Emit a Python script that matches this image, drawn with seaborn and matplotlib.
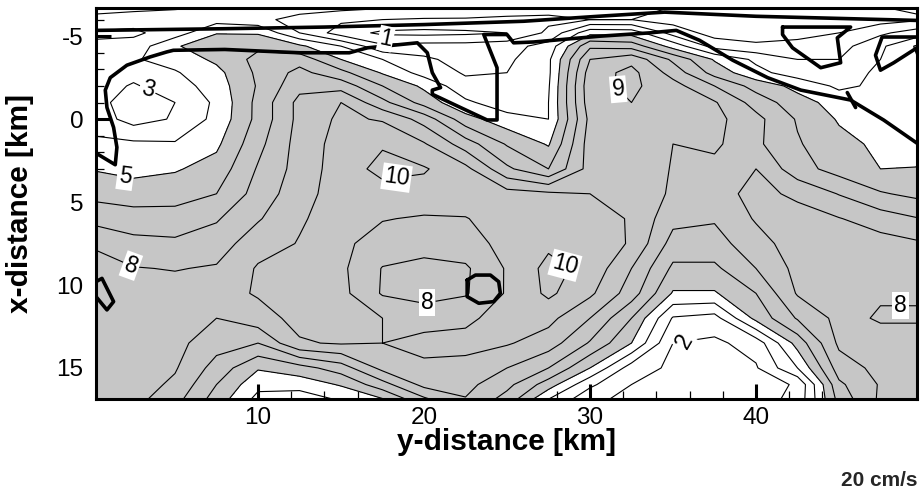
import numpy as np
import pandas as pd
import matplotlib
matplotlib.use("Agg")
import matplotlib.pyplot as plt
import seaborn as sns

# ---------------- data ----------------
# horizontal axis: y-distance [km] (grid columns)
y_dist_km = [0, 2.5, 5, 7.5, 10, 12.5, 15, 17.5, 20, 22.5, 25, 27.5, 30,
             32.5, 35, 37.5, 40, 42.5, 45, 47.5, 50]
# vertical axis: x-distance [km] (grid rows)
x_dist_km = [-6.8, -6.0, -5.2, -4.4, -3.6, -2.8, -2.0, -1.0, 0.0, 1.5, 3.0,
             4.5, 6.0, 7.5, 9.0, 10.5, 12.0, 13.5, 15.0, 16.0, 17.0]
# current speed [cm/s] on that grid (one row per x-distance)
speed_cm_s = [
    [4.6, 4.4, 4.2, 4.0, 3.8, 3.6, 3.4, 3.2, 3.0, 2.8, 2.6, 2.4, 2.3, 2.2, 2.0, 1.8, 1.7, 1.7, 1.8, 2.0, 2.2],
    [3.6, 3.4, 3.4, 3.6, 3.3, 2.6, 2.2, 2.0, 1.9, 1.9, 1.8, 1.8, 2.0, 2.0, 1.6, 1.4, 1.3, 1.3, 1.4, 1.6, 1.9],
    [2.9, 2.8, 3.5, 4.95, 4.9, 3.0, 1.5, 0.8, 0.7, 0.8, 1.0, 2.2, 4.7, 4.6, 2.6, 1.6, 1.5, 1.7, 2.0, 2.8, 3.6],
    [3.1, 3.4, 4.9, 5.6, 5.8, 5.2, 4.0, 2.2, 2.4, 2.4, 2.6, 3.4, 6.8, 6.6, 4.6, 2.6, 2.2, 2.3, 2.6, 3.8, 5.3],
    [3.6, 3.9, 4.4, 5.2, 6.3, 6.6, 5.0, 4.0, 3.2, 2.6, 2.8, 3.8, 8.0, 8.7, 6.8, 4.9, 3.8, 3.0, 3.0, 4.0, 5.1],
    [3.6, 3.3, 3.9, 4.7, 6.2, 7.3, 6.3, 4.9, 3.6, 2.9, 3.0, 3.8, 8.5, 9.3, 7.6, 5.6, 4.3, 3.5, 3.5, 4.2, 4.6],
    [3.5, 2.9, 3.5, 4.5, 6.1, 7.7, 7.6, 6.0, 4.8, 3.3, 3.2, 3.9, 8.7, 9.2, 8.4, 7.0, 5.6, 4.7, 3.8, 4.2, 4.5],
    [3.4, 2.5, 3.0, 4.2, 6.3, 8.3, 9.0, 7.3, 5.6, 4.2, 3.4, 4.0, 8.6, 9.0, 8.6, 8.1, 6.6, 5.4, 4.6, 4.3, 4.4],
    [3.6, 2.6, 3.1, 4.3, 6.3, 8.3, 9.2, 8.9, 7.6, 5.4, 4.4, 4.0, 8.3, 8.7, 8.3, 8.3, 7.3, 5.9, 4.9, 4.6, 4.5],
    [4.2, 4.2, 4.1, 4.8, 6.7, 8.4, 9.4, 9.9, 9.1, 7.5, 5.9, 4.9, 8.5, 8.9, 8.0, 8.2, 7.2, 6.1, 5.3, 4.8, 4.5],
    [4.95, 4.7, 4.9, 5.4, 7.1, 8.4, 9.5, 10.3, 10.1, 9.3, 7.2, 6.0, 8.4, 9.0, 7.9, 7.7, 8.0, 6.4, 5.6, 5.0, 5.05],
    [5.7, 5.5, 5.6, 6.0, 7.4, 8.6, 9.5, 9.6, 9.6, 9.6, 9.4, 9.2, 9.0, 8.9, 7.8, 7.6, 8.3, 7.8, 6.95, 6.1, 5.7],
    [6.7, 6.45, 6.4, 6.9, 7.9, 8.9, 9.4, 9.05, 8.9, 8.95, 9.5, 9.6, 9.5, 8.9, 7.3, 7.1, 8.1, 8.4, 8.05, 7.5, 7.0],
    [7.9, 7.3, 7.2, 7.5, 8.6, 9.05, 9.2, 8.6, 8.4, 8.6, 9.3, 9.8, 9.6, 8.9, 6.6, 6.6, 7.6, 8.5, 8.6, 8.4, 8.1],
    [8.4, 8.05, 7.95, 8.1, 9.1, 9.5, 9.2, 7.95, 7.7, 7.85, 9.1, 10.3, 9.7, 8.0, 5.8, 5.8, 7.0, 8.3, 8.6, 8.4, 8.3],
    [8.5, 8.5, 8.4, 8.6, 9.1, 9.5, 9.3, 7.9, 7.6, 7.9, 9.1, 10.2, 9.2, 7.5, 4.9, 4.9, 6.0, 8.1, 8.6, 8.1, 8.1],
    [8.6, 8.6, 8.5, 8.0, 8.6, 9.3, 9.4, 9.0, 8.6, 8.8, 9.4, 9.3, 8.0, 6.0, 2.9, 2.6, 5.3, 7.1, 8.3, 7.9, 7.9],
    [8.6, 8.6, 8.3, 7.4, 7.0, 8.9, 9.1, 9.0, 9.3, 9.3, 9.1, 8.5, 6.9, 5.0, 2.0, 1.8, 2.4, 5.4, 8.2, 8.4, 8.4],
    [8.6, 8.4, 8.1, 6.6, 5.1, 5.6, 6.5, 8.3, 8.8, 8.7, 8.0, 7.0, 5.0, 2.5, 1.8, 1.6, 1.9, 4.0, 7.5, 8.3, 8.4],
    [8.6, 8.5, 7.8, 6.0, 4.3, 4.4, 5.1, 6.6, 8.3, 8.3, 7.3, 5.5, 3.2, 2.0, 1.6, 1.5, 1.6, 2.1, 6.8, 8.1, 8.4],
    [8.6, 8.3, 7.3, 5.5, 3.6, 3.3, 4.0, 4.7, 6.6, 7.9, 6.5, 3.8, 2.2, 1.7, 1.5, 1.5, 1.6, 2.3, 6.3, 8.2, 8.4],
]
contour_levels = [1, 2, 3, 4, 5, 6, 7, 8, 9, 10]
shade_from = 5          # speeds above this are shaded grey

# spots where contour labels are written (y-km, x-km) and their tilt
label_y_km = [3.6, 2.0, 2.4, 18.3, 31.8, 20.1, 28.5, 48.7, 35.6]
label_x_km = [-2.3, 3.5, 8.7, 3.2, -1.9, 10.5, 8.8, 10.9, 12.9]
label_tilt = [-15, -8, -20, -8, 5, 0, -15, 0, 60]

# label of the thick front line
front_label = "1"
front_label_y, front_label_x = 17.7, -4.85

# thick front lines (y-km, x-km)
front_top_y = [0.24, 8.0, 14.0, 20.0, 26.0, 30.5, 34.5, 40.0, 49.7]
front_top_x = [-5.35, -5.45, -5.55, -5.7, -5.9, -6.2, -6.45, -6.2, -5.95]
front_main_y = [0.24, 1.4, 1.5, 1.3, 0.9, 0.8, 1.1, 2.1, 3.5, 4.5, 4.9, 8.0, 12.5, 15.5,
                16.6, 18.1, 19.6, 20.2, 20.5, 21.0, 20.5, 20.5, 22.2, 23.8, 24.4,
                24.4, 23.8, 23.6, 25.0, 25.4, 26.6, 30.6, 33.6, 35.2, 36.6, 38.6,
                40.7, 42.7, 45.7, 47.7, 49.7]
front_main_x = [2.05, 2.75, 1.7, 0.5, -0.7, -1.75, -2.5, -3.25, -3.75, -4.05, -4.15, -4.2,
                -4.0, -4.0, -4.3, -4.45, -4.6, -4.0, -2.8, -1.9, -1.75, -1.5, -0.7,
                0.05, 0.05, -3.1, -4.6, -5.1, -5.1, -4.6, -4.65, -5.0, -5.2, -5.35,
                -4.75, -3.55, -2.5, -1.75, -1.15, 0.06, 1.45]
front_cross_y = [45.5, 46.0]
front_cross_x = [-1.6, -0.7]
loop_a_y = [41.6, 45.7, 44.9, 45.1, 43.9, 42.2, 41.6, 41.6]
loop_a_x = [-5.55, -5.55, -4.9, -3.4, -3.1, -4.3, -5.1, -5.55]
loop_b_y = [49.7, 47.6, 47.2, 47.5, 48.3, 49.7]
loop_b_x = [-4.95, -4.95, -3.85, -2.95, -3.4, -4.3]
loop_c_y = [22.6, 23.1, 24.0, 24.5, 24.6, 24.2, 23.3, 22.6, 22.6]
loop_c_x = [9.7, 9.4, 9.4, 9.8, 10.5, 11.0, 11.1, 10.7, 9.7]
loop_d_y = [0.24, 0.6, 1.3, 0.9, 0.24]
loop_d_x = [9.8, 9.6, 11.0, 11.5, 10.7]

x_major_ticks = [10, 20, 30, 40]
y_major_ticks = [-5, 0, 5, 10, 15]
x_label = "y-distance [km]"
y_label = "x-distance [km]"
scale_note = "20 cm/s"

# ---------------- drawing ----------------
sns.set_theme(style="white")
plt.rcParams["font.family"] = ["Liberation Sans", "DejaVu Sans"]
plt.rcParams["axes.unicode_minus"] = False

fig = plt.figure(figsize=(9.23, 4.93), dpi=100)
ax = fig.add_axes([0.104, 0.1907, 0.8895, 0.7931])

Y, X = np.meshgrid(np.array(y_dist_km), np.array(x_dist_km))
Z = np.array(speed_cm_s)

ax.contourf(Y, X, Z, levels=[shade_from, 100], colors=["#c6c6c6"])
cs = ax.contour(Y, X, Z, levels=contour_levels, colors="black", linewidths=0.8)

labels = ax.clabel(cs, inline=True, fontsize=16.5, fmt="%d",
                   manual=list(zip(label_y_km, label_x_km)), inline_spacing=2)
for t, rot in zip(labels, label_tilt):
    t.set_rotation(rot)
    t.set_bbox(dict(boxstyle="square,pad=0.08", fc="white", ec="none"))

fronts = []
for name, ys, xs in [("top", front_top_y, front_top_x), ("main", front_main_y, front_main_x),
                     ("cross", front_cross_y, front_cross_x), ("a", loop_a_y, loop_a_x),
                     ("b", loop_b_y, loop_b_x), ("c", loop_c_y, loop_c_x), ("d", loop_d_y, loop_d_x)]:
    fronts.append(pd.DataFrame({"seg": name, "ykm": ys, "xkm": xs}))
fronts = pd.concat(fronts, ignore_index=True)
sns.lineplot(data=fronts, x="ykm", y="xkm", units="seg", estimator=None, sort=False,
             color="black", lw=2.6, ax=ax, legend=False)
ax.text(front_label_y, front_label_x, front_label, fontsize=16.5, rotation=-12,
        ha="center", va="center", color="black", zorder=5,
        bbox=dict(boxstyle="square,pad=0.05", fc="white", ec="none"))

ax.set_xlim(0.24, 49.7)
ax.set_ylim(16.87, -6.7)

ax.set_xticks(x_major_ticks)
ax.set_xticks(np.arange(2, 50, 2), minor=True)
ax.set_yticks(y_major_ticks)
ax.set_yticks(np.arange(-6, 17, 1), minor=True)
ax.set_xticklabels([str(v) for v in x_major_ticks])
ax.set_yticklabels([str(v) for v in y_major_ticks])
ax.tick_params(which="both", direction="in", bottom=True, left=True, top=False, right=False,
               color="black")
ax.tick_params(which="major", length=11, width=2.2, labelsize=17.5, labelcolor="black")
ax.tick_params(which="minor", length=5.5, width=0.9)
ax.tick_params(axis="x", which="major", pad=6)
ax.tick_params(axis="y", which="major", pad=9)

for s in ax.spines.values():
    s.set_linewidth(2.2)
    s.set_color("black")

ax.set_xlabel(x_label, fontsize=21.5, fontweight="bold", color="black")
ax.set_ylabel(y_label, fontsize=21.5, fontweight="bold", color="black")
ax.xaxis.set_label_coords(0.5, -0.074)
ax.yaxis.set_label_coords(-0.075, 0.5)

fig.text(0.9935, 0.026, scale_note, ha="right", va="center", fontsize=15, fontweight="bold")

fig.savefig("out.png", dpi=100)
